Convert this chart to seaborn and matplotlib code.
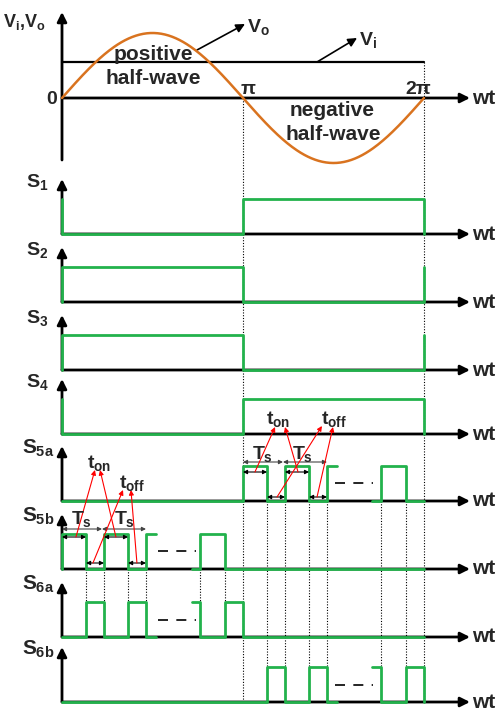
import numpy as np
import seaborn as sns
import matplotlib
matplotlib.use('Agg')
import matplotlib.pyplot as plt

sns.set_theme(style='white')
plt.rcParams['font.family'] = ['Liberation Sans', 'DejaVu Sans']
plt.rcParams['font.weight'] = 'bold'
plt.rcParams['mathtext.fontset'] = 'custom'
plt.rcParams['mathtext.rm'] = 'Liberation Sans:bold'
plt.rcParams['mathtext.it'] = 'Liberation Sans:bold'
plt.rcParams['mathtext.bf'] = 'Liberation Sans:bold'

GREEN = '#22b24c'
ORANGE = '#d9731f'

# x axis: wt in units of pi ; y axis: vertical position in the sketch (px)
TOP_ZERO = 98
VO_AMP = 65
VI_LEVEL = 62
WT_LABELS = ['0', 'π', '2π']
WT_LABEL_POS = [-0.055, 1.028, 1.967]

ROW_NAMES = ['$S_1$', '$S_2$', '$S_3$', '$S_4$', '$S_{5a}$', '$S_{5b}$', '$S_{6a}$', '$S_{6b}$']
ROW_BASE = [234, 302, 370, 434, 501, 569, 637, 702]
PULSE_H = 35

# switching states: edge times (wt/pi) and level after each edge
S1_T = [0, 0, 1, 2]
S1_V = [1, 0, 1, 0]
S2_T = [0, 0, 1, 2]
S2_V = [0, 1, 0, 1]
S3_T = [0, 0, 1, 2]
S3_V = [0, 1, 0, 1]
S4_T = [0, 0, 1, 2]
S4_V = [1, 0, 1, 0]

S5A_T1 = [0, 1.0, 1.133, 1.232, 1.365, 1.464, 1.519]
S5A_V1 = [0, 1, 0, 1, 0, 1, 1]
S5A_T2 = [1.715, 1.765, 1.898, 2.0]
S5A_V2 = [0, 1, 0, 0]

S5B_T1 = [0, 0, 0.133, 0.232, 0.365, 0.464, 0.519]
S5B_V1 = [0, 1, 0, 1, 0, 1, 1]
S5B_T2 = [0.72, 0.765, 0.898, 2.0]
S5B_V2 = [0, 1, 0, 0]

S6A_T1 = [0, 0.133, 0.232, 0.365, 0.464, 0.519]
S6A_V1 = [0, 1, 0, 1, 0, 0]
S6A_T2 = [0.72, 0.765, 0.898, 1.0, 2.0]
S6A_V2 = [1, 0, 1, 0, 0]

S6B_T1 = [0, 1.133, 1.232, 1.365, 1.464, 1.519]
S6B_V1 = [0, 1, 0, 1, 0, 0]
S6B_T2 = [1.715, 1.765, 1.898, 2.0]
S6B_V2 = [1, 0, 1, 0]

ROW_WAVES = [
    [(S1_T, S1_V)], [(S2_T, S2_V)], [(S3_T, S3_V)], [(S4_T, S4_V)],
    [(S5A_T1, S5A_V1), (S5A_T2, S5A_V2)],
    [(S5B_T1, S5B_V1), (S5B_T2, S5B_V2)],
    [(S6A_T1, S6A_V1), (S6A_T2, S6A_V2)],
    [(S6B_T1, S6B_V1), (S6B_T2, S6B_V2)],
]

X_MIN, X_MAX = -62 / 181, 435 / 181
AX_END = 2.254


def steps(ts, vs):
    xs, ys = [ts[0]], [vs[0]]
    for i in range(1, len(ts)):
        xs += [ts[i], ts[i]]
        ys += [vs[i - 1], vs[i]]
    return np.array(xs, float), np.array(ys, float)


def arrow(ax, p0, p1, color='black', lw=2, ms=14, style='-|>', z=2):
    ax.annotate('', xy=p1, xytext=p0,
                arrowprops=dict(arrowstyle=style, color=color, lw=lw,
                                mutation_scale=ms, shrinkA=0, shrinkB=0),
                zorder=z)


fig = plt.figure(figsize=(4.97, 7.11), dpi=100)
ax = fig.add_axes([0, 0, 1, 1])
ax.set_xlim(X_MIN, X_MAX)
ax.set_ylim(711, 0)
ax.axis('off')

# ---- top panel: Vi and Vo
arrow(ax, (0, 160), (0, 12))
arrow(ax, (0, TOP_ZERO), (AX_END, TOP_ZERO))
ax.plot([0, 2], [VI_LEVEL, VI_LEVEL], color='black', lw=1.6, zorder=2)
wt = np.linspace(0, 2, 300)
sns.lineplot(x=wt, y=TOP_ZERO - VO_AMP * np.sin(np.pi * wt), color=ORANGE,
             lw=1.8, ax=ax, estimator=None, sort=False, legend=False, zorder=3)
ax.text(-0.326, 27, '$V_i$,$V_o$', fontsize=13, va='baseline', ha='left')
for lab, xp in zip(WT_LABELS, WT_LABEL_POS):
    ax.text(xp, TOP_ZERO - 9 if lab != '0' else TOP_ZERO + 2, lab,
            fontsize=14, ha='center', va='center')
ax.text(2.265, TOP_ZERO, 'wt', fontsize=15, ha='left', va='center')
ax.text(0.502, 55, 'positive', fontsize=15, ha='center', va='center')
ax.text(0.502, 79, 'half-wave', fontsize=15, ha='center', va='center')
ax.text(1.492, 111, 'negative', fontsize=15, ha='center', va='center')
ax.text(1.497, 135, 'half-wave', fontsize=15, ha='center', va='center')
arrow(ax, (0.746, 50), (1.011, 24), lw=1.2, ms=13)
ax.text(1.02, 27, '$V_o$', fontsize=14, ha='left', va='center')
arrow(ax, (1.409, 62), (1.63, 38), lw=1.2, ms=13)
ax.text(1.64, 40, '$V_i$', fontsize=14, ha='left', va='center')

# ---- dotted guides
ax.plot([1, 1], [TOP_ZERO, 702], color='black', lw=0.8, ls=(0, (1, 1.5)), zorder=1)
ax.plot([2, 2], [VI_LEVEL, 702], color='black', lw=0.8, ls=(0, (1, 1.5)), zorder=1)
for t in S5B_T1[2:6] + S5B_T2[1:3]:
    ax.plot([t, t], [ROW_BASE[5], ROW_BASE[6] - PULSE_H], color='black', lw=0.8,
            ls=(0, (1, 1.5)), zorder=1)
for t in S5A_T1[2:6] + S5A_T2[1:3]:
    ax.plot([t, t], [ROW_BASE[4], ROW_BASE[7] - PULSE_H], color='black', lw=0.8,
            ls=(0, (1, 1.5)), zorder=1)

# ---- switching signal rows
for i, (name, base, waves) in enumerate(zip(ROW_NAMES, ROW_BASE, ROW_WAVES)):
    arrow(ax, (0, base), (0, base - 55))
    arrow(ax, (0, base), (AX_END, base))
    ax.text(2.265, base, 'wt', fontsize=15, ha='left', va='center')
    if i < 4:
        ax.text(-0.2, base - 47, name, fontsize=14, ha='left', va='baseline')
    else:
        ax.text(-0.222, base - 47, name, fontsize=15, ha='left', va='baseline')
    for ts, vs in waves:
        xs, ys = steps(ts, vs)
        sns.lineplot(x=xs, y=base - PULSE_H * ys, color=GREEN, lw=2, ax=ax,
                     estimator=None, sort=False, legend=False, zorder=3)

# dashes for the omitted pulses
for x0, x1, y in [(0.519, 0.74, 551), (0.519, 0.74, 620),
                  (1.497, 1.718, 483), (1.497, 1.718, 685)]:
    ax.plot([x0 + 0.01, x1], [y, y], color='black', lw=1.2,
            ls=(0, (6, 5)), zorder=2)


# ---- Ts / ton / toff markers
def period_marks(off, y_ts, y_on, y_off):
    kw = dict(lw=0.8, ms=6, style='<|-|>', z=4)
    arrow(ax, (off, y_ts), (off + 0.221, y_ts), color='#444444', **kw)
    arrow(ax, (off + 0.221, y_ts), (off + 0.464, y_ts), color='#444444', **kw)
    arrow(ax, (off, y_on), (off + 0.133, y_on), **kw)
    arrow(ax, (off + 0.232, y_on), (off + 0.365, y_on), **kw)
    arrow(ax, (off + 0.133, y_off), (off + 0.232, y_off), **kw)
    arrow(ax, (off + 0.365, y_off), (off + 0.464, y_off), **kw)


period_marks(0, 529, 537, 563)
period_marks(1, 462, 472, 497)

rk = dict(color='red', lw=0.8, ms=7, z=4)
# first half
arrow(ax, (0.077, 537), (0.182, 470), **rk)
arrow(ax, (0.298, 537), (0.210, 470), **rk)
arrow(ax, (0.171, 563), (0.337, 490), **rk)
arrow(ax, (0.414, 563), (0.381, 490), **rk)
ax.text(0.207, 468, '$t_{on}$', fontsize=14, ha='center', va='baseline', zorder=5)
ax.text(0.384, 488, '$t_{off}$', fontsize=14, ha='center', va='baseline', zorder=5)
ax.text(0.105, 524, '$T_s$', fontsize=14, ha='center', va='baseline', zorder=5)
ax.text(0.343, 524, '$T_s$', fontsize=14, ha='center', va='baseline', zorder=5)
# second half
arrow(ax, (1.066, 472), (1.177, 427), **rk)
arrow(ax, (1.304, 472), (1.232, 427), **rk)
arrow(ax, (1.188, 497), (1.436, 426), **rk)
arrow(ax, (1.409, 497), (1.497, 427), **rk)
ax.text(1.193, 424, '$t_{on}$', fontsize=14, ha='center', va='baseline', zorder=5)
ax.text(1.503, 424, '$t_{off}$', fontsize=14, ha='center', va='baseline', zorder=5)
ax.text(1.11, 459, '$T_s$', fontsize=14, ha='center', va='baseline', zorder=5)
ax.text(1.331, 459, '$T_s$', fontsize=14, ha='center', va='baseline', zorder=5)

fig.savefig('out.png', dpi=100)
